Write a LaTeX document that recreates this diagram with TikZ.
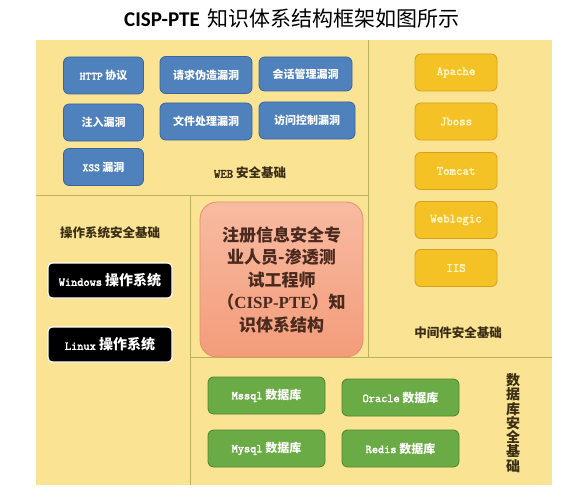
\documentclass[tikz,border=0pt]{standalone}
\usepackage{fontspec}
\setmainfont{Noto Sans CJK SC}
\newfontfamily\titlefont{Carlito}
\newfontfamily\coreen{Liberation Serif}
\newfontfamily\boxtt[FakeBold=2.5]{Latin Modern Mono}
\newcommand{\boxlat}[1]{{\boxtt #1}}

\definecolor{panelfill}{HTML}{FBE394}
\definecolor{divline}{HTML}{B9B35C}
\definecolor{webfill}{HTML}{4F81BD}
\definecolor{webedge}{HTML}{3B659A}
\definecolor{midfill}{HTML}{F5C226}
\definecolor{midedge}{HTML}{D6A01C}
\definecolor{midtext}{HTML}{FFF4C8}
\definecolor{dbfill}{HTML}{6AAB45}
\definecolor{dbedge}{HTML}{4D8530}
\definecolor{coretop}{HTML}{F8BBA2}
\definecolor{corebot}{HTML}{F39C7A}
\definecolor{coreedge}{HTML}{E48D6A}
\definecolor{coretext}{HTML}{4A2A1E}
\definecolor{labeltext}{HTML}{3A2E14}

\begin{document}
\begin{tikzpicture}[x=1pt, y=-1pt,
    webbox/.style={rectangle, draw=webedge, line width=0.8pt, rounded corners=2mm,
        text centered, text=white, fill=webfill, minimum width=80pt, minimum height=37pt,
        font=\fontsize{11}{13}\selectfont\bfseries},
    osbox/.style={rectangle, draw=white, line width=1.2pt, rounded corners=1.5mm,
        text centered, text=white, fill=black, minimum width=124pt, minimum height=35pt,
        font=\fontsize{14}{16}\selectfont\bfseries},
    midbox/.style={rectangle, draw=midedge, line width=0.8pt, rounded corners=2mm,
        text centered, text=midtext, fill=midfill, minimum width=82pt, minimum height=37pt,
        font=\fontsize{12.5}{15}\selectfont\bfseries},
    dbbox/.style={rectangle, draw=dbedge, line width=0.8pt, rounded corners=2mm,
        text centered, text=white, fill=dbfill, minimum width=117pt, minimum height=37pt,
        font=\fontsize{12}{14}\selectfont\bfseries},
    corebox/.style={rectangle, draw=coreedge, line width=0.8pt, rounded corners=6mm,
        align=center, text=coretext, top color=coretop, bottom color=corebot,
        minimum width=163pt, minimum height=155pt,
        font=\fontsize{17}{22.5}\selectfont\bfseries},
    area/.style={text=labeltext, font=\fontsize{12.5}{14}\selectfont\bfseries},
    divider/.style={draw=divline, line width=1pt}]

\useasboundingbox (0,0) rectangle (588,500);

% title
\node (Title) at (292,19) {{\titlefont\bfseries\fontsize{21}{24}\selectfont CISP-PTE}\hspace{0.8em}{\fontsize{21}{24}\selectfont 知识体系结构框架如图所示}};

% panel and its parts
\fill[panelfill] (36,40) rectangle (552,485);
\draw[divider] (368,40) -- (368,357);
\draw[divider] (36,195) -- (368,195);
\draw[divider] (190,195) -- (190,485);
\draw[divider] (190,357) -- (552,357);

% WEB
\node (Web01) [webbox] at (103.5,75.5) {\boxlat{HTTP} 协议};
\node (Web02) [webbox] at (103.5,122.5) {注入漏洞};
\node (Web03) [webbox] at (103.5,167) {\boxlat{XSS} 漏洞};
\node (Web04) [webbox, minimum width=92pt] at (206,75) {请求伪造漏洞};
\node (Web05) [webbox, minimum width=92pt] at (206,121.5) {文件处理漏洞};
\node (Web06) [webbox, minimum width=93pt, minimum height=34pt] at (305.5,74) {会话管理漏洞};
\node (Web07) [webbox, minimum width=96pt] at (307,120.5) {访问控制漏洞};
\node (WebArea) [area] at (250,173) {\boxlat{WEB} 安全基础};

% middleware
\node (Mid01) [midbox] at (456,72.5) {\boxlat{Apache}};
\node (Mid02) [midbox] at (456,121.5) {\boxlat{Jboss}};
\node (Mid03) [midbox] at (456,171) {\boxlat{Tomcat}};
\node (Mid04) [midbox] at (456,220) {\boxlat{Weblogic}};
\node (Mid05) [midbox] at (456,268) {\boxlat{IIS}};
\node (MidArea) [area] at (458,333) {中间件安全基础};

% operating systems
\node (OsArea) [area] at (110,233) {操作系统安全基础};
\node (Os01) [osbox] at (110,280.5) {{\fontsize{12}{14}\selectfont\boxlat{Windows}} 操作系统};
\node (Os02) [osbox] at (110,344.5) {{\fontsize{12}{14}\selectfont\boxlat{Linux}} 操作系统};

% centre
\node (Core) [corebox] at (281.5,279.5) {注册信息安全专\\业人员-渗透测\\试工程师\\（{\coreen\bfseries CISP-PTE}）知\\识体系结构};

% databases
\node (Db01) [dbbox] at (266.5,395.5) {\boxlat{Mssql} 数据库};
\node (Db02) [dbbox] at (400.5,397.5) {\boxlat{Oracle} 数据库};
\node (Db03) [dbbox] at (266.5,448.5) {\boxlat{Mysql} 数据库};
\node (Db04) [dbbox] at (400.5,448.5) {\boxlat{Redis} 数据库};
\node (DbArea) [area, align=center, font=\fontsize{14}{14.3}\selectfont\bfseries] at (513,423) {数\\据\\库\\安\\全\\基\\础};

\end{tikzpicture}
\end{document}
